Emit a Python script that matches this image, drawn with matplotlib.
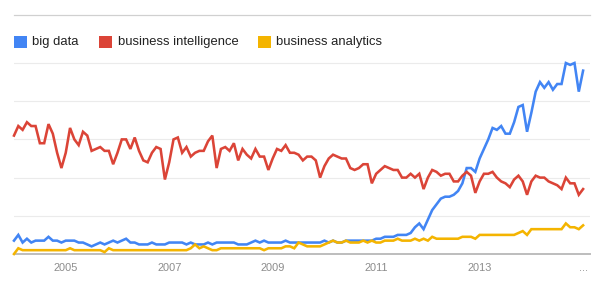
import numpy as np
import matplotlib
matplotlib.use("Agg")
import matplotlib.pyplot as plt
from matplotlib.patches import Rectangle
from matplotlib.lines import Line2D

plt.rcParams['font.family'] = ['Liberation Sans', 'DejaVu Sans']

# monthly Google Trends interest, Jan 2004 .. Jan 2015 (0-100)
big_data = [7, 10, 6, 8, 6, 7, 7, 7, 9, 7, 7, 6, 7, 7, 7, 6, 6, 5, 4, 5, 6, 5, 6,
            7, 6, 7, 8, 6, 6, 5, 5, 5, 6, 5, 5, 5, 6, 6, 6, 6, 5, 6, 5, 5, 5,
            6, 5, 6, 6, 6, 6, 6, 5, 5, 5, 6, 7, 6, 7, 6, 6, 6, 6, 7, 6, 6, 6,
            6, 6, 6, 6, 6, 7, 6, 7, 6, 6, 7, 7, 7, 7, 7, 7, 7, 8, 8, 9,
            9, 9, 10, 10, 10, 11, 14, 16, 13, 18, 23, 26, 29, 30, 30, 31, 33, 37, 45, 45, 43, 50,
            55, 60, 66, 65, 67, 63, 63, 69, 77, 78, 64, 74, 85, 90, 87, 90, 86, 89, 89, 100, 99, 100, 85, 96]

business_intelligence = [62, 67, 65, 69, 67, 67, 58, 58, 68, 63, 53, 45, 53, 66, 60, 57, 64, 62, 54, 55, 56, 54, 54,
                         47, 53, 60, 60, 55, 61, 54, 49, 48, 53, 56, 55, 39, 48, 60, 61, 53, 56, 51, 53, 54, 54,
                         59, 62, 45, 55, 56, 54, 58, 49, 55, 52, 50, 55, 51, 51, 44, 50, 55, 54, 57, 53, 53, 52,
                         49, 51, 51, 49, 40, 46, 50, 52, 51, 50, 50, 45, 44, 45, 47, 47, 37, 42, 44, 46,
                         45, 44, 44, 40, 40, 42, 40, 42, 34, 40, 44, 43, 41, 42, 42, 38, 38, 41, 43, 41, 32, 38,
                         42, 42, 43, 40, 38, 37, 35, 39, 41, 38, 31, 38, 41, 40, 40, 38, 37, 36, 34, 40, 37, 37, 31, 34]

business_analytics = [0, 3, 2, 2, 2, 2, 2, 2, 2, 2, 2, 2, 2, 3, 2, 2, 2, 2, 2, 2, 2, 1, 3,
                      2, 2, 2, 2, 2, 2, 2, 2, 2, 2, 2, 2, 2, 2, 2, 2, 2, 2, 3, 5, 3, 4,
                      3, 2, 2, 3, 3, 3, 3, 3, 3, 3, 3, 3, 3, 2, 3, 3, 3, 3, 4, 4, 3, 6,
                      5, 4, 4, 4, 4, 5, 6, 7, 6, 6, 7, 6, 6, 6, 7, 6, 7, 6, 6, 7,
                      7, 7, 8, 7, 7, 7, 8, 7, 8, 7, 9, 8, 8, 8, 8, 8, 8, 9, 9, 9, 8, 10,
                      10, 10, 10, 10, 10, 10, 10, 10, 11, 12, 10, 13, 13, 13, 13, 13, 13, 13, 13, 16, 14, 14, 13, 15]

series_names = ['big data', 'business intelligence', 'business analytics']
tick_labels = ['2005', '2007', '2009', '2011', '2013', '...']
tick_months = [12, 36, 60, 84, 108, 132]

colors = ['#4285f4', '#db4437', '#f4b400']

W, H = 602, 283
fig = plt.figure(figsize=(W / 100, H / 100), dpi=100)
fig.patch.set_facecolor('white')

# plot area: y=0 at pixel 254, 100 at pixel 63
ax = fig.add_axes([14 / W, (H - 254) / H, 576 / W, (254 - 55) / H])
ax.set_xlim(0, 133.6)
ax.set_ylim(0, (254 - 55) / 1.91)

for v in [20, 40, 60, 80, 100]:
    ax.axhline(v, color='#ebebeb', lw=0.8, zorder=0)

months = np.arange(len(big_data))
for data, c in zip([big_data, business_intelligence, business_analytics], colors):
    ax.plot(months, data, color=c, lw=1.85, solid_joinstyle='miter', clip_on=False, zorder=3)

for s in ['top', 'right', 'left']:
    ax.spines[s].set_visible(False)
ax.spines['bottom'].set_color('#bdbdbd')
ax.spines['bottom'].set_linewidth(1.4)
ax.spines['bottom'].set_zorder(2)
ax.set_yticks([])
ax.set_xticks(tick_months)
ax.set_xticklabels(tick_labels)
ax.tick_params(axis='x', length=0, pad=6.5, labelsize=7.9, labelcolor='#8c8c8c')

# separator line above the legend
fig.add_artist(Line2D([14 / W, 590 / W], [1 - 14.5 / H] * 2, color='#d0d0d0', lw=0.9))

# legend
leg_x = [14, 99, 258]
for x, name, c in zip(leg_x, series_names, colors):
    fig.add_artist(Rectangle((x / W, 1 - 48 / H), 12.5 / W, 12.5 / H, transform=fig.transFigure,
                             facecolor=c, edgecolor='none'))
    fig.text((x + 18.5) / W, 1 - 42 / H, name, fontsize=9.4, color='#222222', va='center', ha='left')

fig.savefig('out.png', dpi=100, facecolor='white')
